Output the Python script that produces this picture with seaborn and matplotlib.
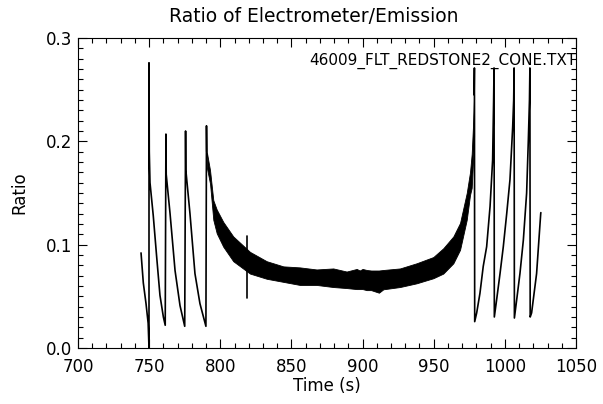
import matplotlib
matplotlib.use("Agg")
import matplotlib.pyplot as plt
from matplotlib.ticker import MultipleLocator, FormatStrFormatter
import seaborn as sns
import numpy as np

# ---- data ----
# decaying segments before the wide band (time s, ratio)
left_t = [744.3, 745.9, 747.8, 749.3, 749.9, 749.9, 750.1,
          750.6, 752.9, 755.3, 757.6, 760.0, 761.3,
          761.8, 762.0, 764.7, 768.2, 771.7, 775.0,
          775.6, 775.8, 778.7, 782.2, 785.7, 789.9,
          790.3, 790.5]
left_r = [0.092, 0.063, 0.043, 0.024, 0.000, 0.276, 0.190,
          0.160, 0.128, 0.088, 0.051, 0.030, 0.022,
          0.207, 0.168, 0.130, 0.075, 0.041, 0.021,
          0.210, 0.172, 0.130, 0.072, 0.043, 0.021,
          0.215, 0.190]

# wide oscillating band: upper and lower envelopes
band_t = [790.5, 792.8, 795.1, 797.5, 802.1, 809.1, 820.9, 832.6, 844.3,
          856.0, 867.7, 879.4, 888.8, 895.9, 898.0, 900.0, 902.9, 906.0,
          911.5, 914.6, 926.3, 938.0, 949.7, 956.7, 963.8, 968.5, 973.2,
          975.5, 976.7, 977.6, 978.4]
band_hi = [0.190, 0.172, 0.143, 0.134, 0.122, 0.108, 0.093, 0.084, 0.079,
           0.078, 0.076, 0.077, 0.074, 0.0765, 0.075, 0.0765, 0.0755, 0.075,
           0.075, 0.0755, 0.077, 0.082, 0.088, 0.0965, 0.108, 0.121, 0.150,
           0.170, 0.188, 0.215, 0.245]
band_lo = [0.175, 0.159, 0.124, 0.111, 0.098, 0.084, 0.072, 0.067, 0.064,
           0.061, 0.061, 0.059, 0.058, 0.057, 0.057, 0.057, 0.056, 0.056,
           0.0535, 0.0568, 0.059, 0.0626, 0.0675, 0.072, 0.082, 0.095, 0.124,
           0.148, 0.155, 0.180, 0.205]

# isolated spike inside the band
spike_t = [818.5, 818.5]
spike_r = [0.048, 0.108]

# rising segments after the band
right_t = [978.4, 978.6, 978.8,
           980.2, 982.5, 984.8, 987.2, 989.6, 991.4, 992.1, 992.4, 992.6,
           994.2, 996.6, 998.9, 1001.3, 1003.6, 1005.5, 1006.2, 1006.5, 1006.7,
           1008.3, 1010.6, 1013.0, 1015.3, 1016.5, 1017.3, 1017.6, 1017.8,
           1018.8, 1022.3, 1025.2, 1025.3]
right_r = [0.245, 0.271, 0.0255,
           0.034, 0.053, 0.079, 0.098, 0.137, 0.182, 0.240, 0.271, 0.030,
           0.0465, 0.072, 0.098, 0.130, 0.163, 0.214, 0.240, 0.271, 0.029,
           0.0465, 0.072, 0.1045, 0.150, 0.201, 0.240, 0.271, 0.030,
           0.034, 0.072, 0.130, 0.131]

title = "Ratio of Electrometer/Emission"
file_label = "46009_FLT_REDSTONE2_CONE.TXT"
x_label = "Time (s)"
y_label = "Ratio"
x_ticks = [700, 750, 800, 850, 900, 950, 1000, 1050]
y_ticks = [0.0, 0.1, 0.2, 0.3]

# ---- style ----
sns.set_theme(style="ticks")
plt.rcParams['font.family'] = ['DejaVu Sans']
plt.rcParams['text.color'] = 'black'

fig = plt.figure(figsize=(6.03, 4.04), dpi=100)
ax = fig.add_axes([78/603, 56/404, 498/603, 310/404])
fig.patch.set_facecolor('white')
ax.set_facecolor('white')

lw = 1.2
ax.fill_between(band_t, band_lo, band_hi, color='black', lw=0.6)
sns.lineplot(x=left_t, y=left_r, sort=False, estimator=None, color='black', lw=lw, ax=ax)
sns.lineplot(x=spike_t, y=spike_r, sort=False, estimator=None, color='black', lw=lw, ax=ax)
sns.lineplot(x=right_t, y=right_r, sort=False, estimator=None, color='black', lw=lw, ax=ax)

ax.set_xlim(x_ticks[0], x_ticks[-1])
ax.set_ylim(y_ticks[0], y_ticks[-1])
ax.set_xticks(x_ticks)
ax.set_yticks(y_ticks)
ax.xaxis.set_minor_locator(MultipleLocator(10))
ax.yaxis.set_minor_locator(MultipleLocator(0.01))
ax.yaxis.set_major_formatter(FormatStrFormatter('%.1f'))

ax.tick_params(which='both', direction='in', top=True, right=True,
               color='black', width=0.8, labelsize=12, labelcolor='black')
ax.tick_params(axis='y', which='major', length=6.5, pad=4)
ax.tick_params(axis='x', which='major', length=6.5, pad=7)
ax.tick_params(which='minor', length=3.6)
for s in ax.spines.values():
    s.set_color('black')
    s.set_linewidth(0.8)

fig.text(314/603, 1 - 22/404, title, ha='center', va='baseline',
         fontsize=13.5, color='black')
ax.set_xlabel(x_label, fontsize=12, labelpad=1, color='black')
ax.set_ylabel(y_label, fontsize=12, labelpad=13, color='black')
ax.text(1.0, 0.913, file_label, transform=ax.transAxes, ha='right',
        va='baseline', fontsize=11, color='black')

fig.savefig("out.png", dpi=100, facecolor='white')
